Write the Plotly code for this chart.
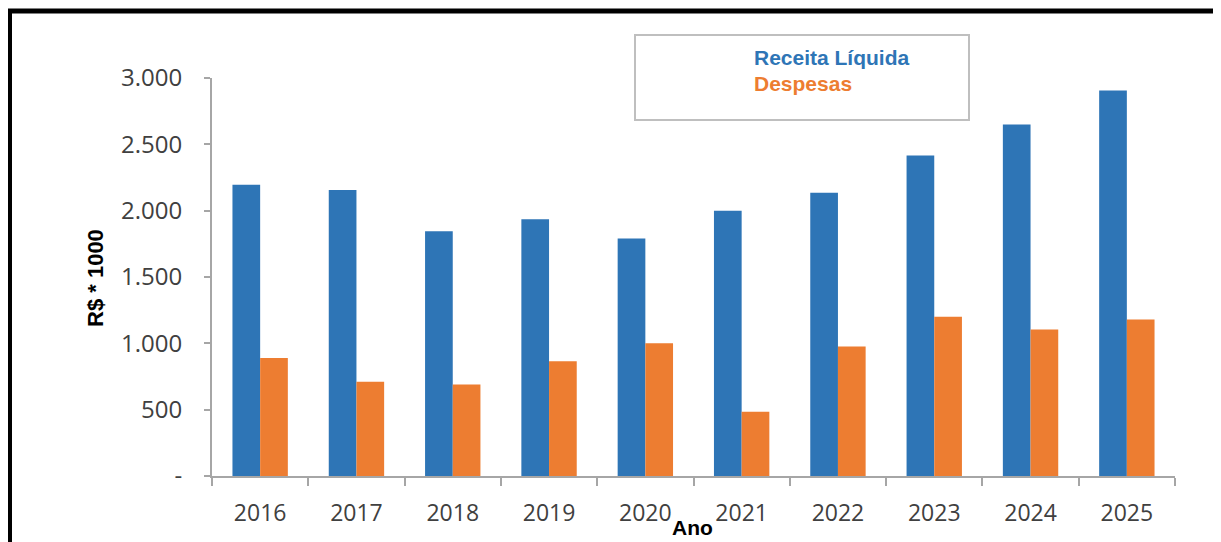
import plotly.graph_objects as go

anos = ["2016", "2017", "2018", "2019", "2020", "2021", "2022", "2023", "2024", "2025"]
receita_liquida = [2195, 2155, 1845, 1935, 1790, 2000, 2135, 2415, 2650, 2905]
despesas = [890, 710, 690, 865, 1000, 485, 977, 1200, 1105, 1180]
y_tickvals = [0, 500, 1000, 1500, 2000, 2500, 3000]
y_ticktext = ["-", "500", "1.000", "1.500", "2.000", "2.500", "3.000"]

W, H = 1221, 542
OFF = 8  # page body margin offset
# plot area in reference (screen) pixels: x 212..1175, y 78..476
ML, MT = 212 - OFF, 78 - OFF
MR = W - (1175 - OFF)
MB = H - (476 - OFF)
PW, PH = W - ML - MR, H - MT - MB


def px(x):
    return (x - OFF - ML) / PW


def py(y):
    return (H - MB - (y - OFF)) / PH


BLUE = "#2e75b6"
ORANGE = "#ed7d31"
AXIS = "#a6a6a6"
TXT = "#404040"

fig = go.Figure()
fig.add_trace(go.Bar(x=anos, y=receita_liquida, name="Receita Líquida",
                     marker=dict(color=BLUE, line=dict(width=0))))
fig.add_trace(go.Bar(x=anos, y=despesas, name="Despesas",
                     marker=dict(color=ORANGE, line=dict(width=0))))

fig.update_layout(
    width=W, height=H,
    margin=dict(l=ML, r=MR, t=MT, b=MB, pad=0),
    paper_bgcolor="white", plot_bgcolor="white",
    barmode="group", bargap=0.425, bargroupgap=0,
    showlegend=False,
    font=dict(family="Open Sans", color=TXT),
)

fig.update_xaxes(
    type="category",
    showline=True, linecolor=AXIS, linewidth=2,
    ticks="outside", tickson="boundaries", ticklen=8, tickwidth=2, tickcolor=AXIS,
    tickfont=dict(family="Open Sans", size=23, color=TXT),
    ticklabelstandoff=15,
    showgrid=False, zeroline=False,
)
fig.update_yaxes(
    range=[0, 3000],
    tickvals=y_tickvals, ticktext=y_ticktext,
    showline=True, linecolor=AXIS, linewidth=2,
    ticks="outside", ticklen=6, tickwidth=2, tickcolor=AXIS,
    tickfont=dict(family="Open Sans", size=24, color=TXT),
    ticklabelstandoff=17,
    showgrid=False, zeroline=False,
)

# axis titles
fig.add_annotation(text="<b>R$ * 1000</b>", xref="paper", yref="paper",
                   x=px(95), y=py(278), xanchor="center", yanchor="middle",
                   textangle=-90, showarrow=False,
                   font=dict(family="Liberation Sans", size=22, color="black"))
fig.add_annotation(text="<b>Ano</b>", xref="paper", yref="paper",
                   x=px(692), y=py(527), xanchor="center", yanchor="middle",
                   showarrow=False,
                   font=dict(family="Liberation Sans", size=21, color="black"))

# legend box and labels
fig.add_shape(type="rect", xref="paper", yref="paper",
              x0=px(635), x1=px(969), y0=py(120), y1=py(35),
              line=dict(color="#bfbfbf", width=2), fillcolor="rgba(0,0,0,0)")
fig.add_annotation(text="<b>Receita Líquida</b>", xref="paper", yref="paper",
                   x=px(752), y=py(57), xanchor="left", yanchor="middle", showarrow=False,
                   font=dict(family="Liberation Sans", size=21, color=BLUE))
fig.add_annotation(text="<b>Despesas</b>", xref="paper", yref="paper",
                   x=px(752), y=py(84), xanchor="left", yanchor="middle", showarrow=False,
                   font=dict(family="Liberation Sans", size=21, color=ORANGE))

# outer frame (open at bottom)
fig.add_shape(type="path", xref="paper", yref="paper",
              path=f"M {px(9.5)} {py(560)} L {px(9.5)} {py(11)} L {px(1217)} {py(11)} L {px(1217)} {py(560)}",
              line=dict(color="black", width=5))

fig.write_html("out.html")
